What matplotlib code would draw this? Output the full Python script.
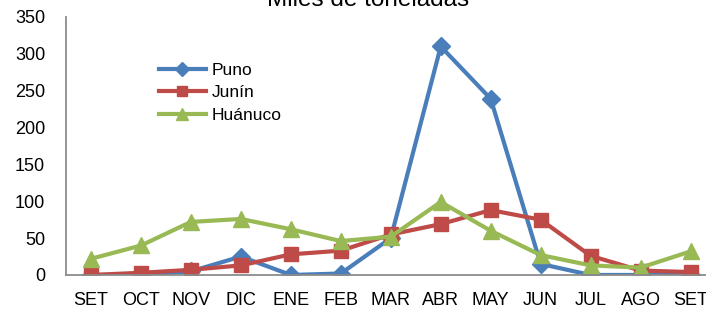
import matplotlib
matplotlib.use('Agg')
import matplotlib.pyplot as plt

plt.rcParams['font.family'] = ['Liberation Sans', 'DejaVu Sans']

meses = ['SET', 'OCT', 'NOV', 'DIC', 'ENE', 'FEB', 'MAR', 'ABR', 'MAY', 'JUN', 'JUL', 'AGO', 'SET']
puno = [0, 0, 5, 25, 0, 2, 50, 310, 239, 15, 0, 0, 0]
junin = [0, 3, 7, 13, 28, 33, 55, 69, 88, 75, 26, 6, 4]
huanuco = [22, 40, 72, 76, 62, 46, 52, 99, 60, 27, 13, 10, 32]

fig = plt.figure(figsize=(7.06, 3.11), dpi=100)
ax = fig.add_axes([0.0935, 0.1158, 0.92, 0.8296])

x = list(range(len(meses)))
ax.plot(x, puno, color='#4A7EBB', lw=3, marker='D', ms=9.5, label='Puno')
ax.plot(x, junin, color='#BE4B48', lw=3, marker='s', ms=10.5, label='Junín')
ax.plot(x, huanuco, color='#98B954', lw=3, marker='^', ms=11.5, label='Huánuco')

ax.set_xlim(-0.5, 12.5)
ax.set_ylim(0, 350)
ax.set_yticks(range(0, 351, 50))
ax.set_xticks(x)
ax.set_xticklabels(meses)
ax.tick_params(axis='both', length=0, labelsize=13)
ax.tick_params(axis='x', pad=12)
ax.tick_params(axis='y', pad=15)
for s in ['top', 'right']:
    ax.spines[s].set_visible(False)
for s in ['left', 'bottom']:
    ax.spines[s].set_color('#8c8c8c')
    ax.spines[s].set_linewidth(1.3)

leg = ax.legend(loc='upper left', bbox_to_anchor=(0.132, 0.85), frameon=False,
                fontsize=12.5, handlelength=2.7, handletextpad=0.35, labelspacing=0.42,
                borderaxespad=0, markerscale=0.75)

fig.text(0.522, 1 - 6 / 311, 'Miles de toneladas', ha='center', va='baseline', fontsize=17.5)

fig.savefig('out.png', dpi=100)
